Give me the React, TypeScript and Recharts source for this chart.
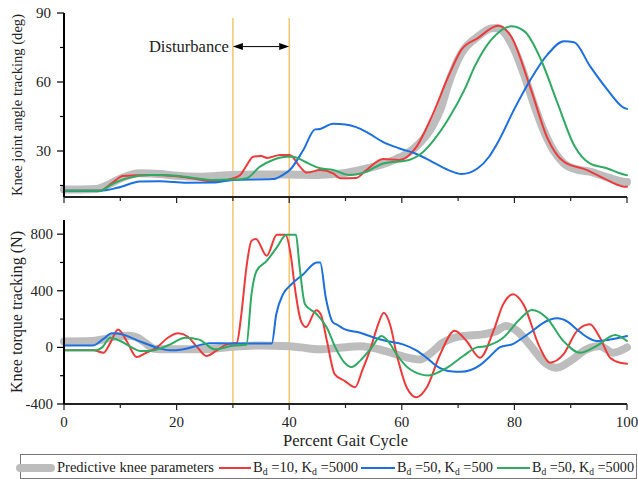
import { LineChart, Line, XAxis, YAxis, ReferenceLine } from 'recharts';

type Pt = [number, number];

const txt = { fontFamily: 'Times New Roman' };

const gaitTicks = [0, 10, 20, 30, 40, 50, 60, 70, 80, 90, 100];
const angleTicks = [15, 30, 45, 60, 75, 90];
const torqueTicks = [-400, -200, 0, 200, 400, 600, 800];
const disturbance = [30, 40];

// knee joint angle (deg) vs percent gait cycle
const anglePredictive: Pt[] = [
  [0, 13.3], [3, 13.3], [5.8, 13.5], [8, 15.5], [10, 18], [13.5, 20.3], [17, 20], [20, 19.2], [24, 18.8],
  [30, 19.6], [35, 19.8], [40, 19.8], [45, 19.6], [50, 20.5], [54, 22.5], [58, 25.5], [61, 29], [63, 33],
  [65.4, 40.6], [67, 49], [68.3, 59.4], [70.6, 72.5], [73.5, 79.7], [75.9, 83.3], [77, 83.5], [78.3, 81.3],
  [80, 74], [81.8, 62.6], [83.5, 50], [85.3, 38.3], [87, 30], [88.8, 24.6], [91, 22], [93.4, 21], [96, 19],
  [99.3, 16.7], [100, 16.5],
];
const angleB10K5000: Pt[] = [
  [0, 12.7], [6.4, 12.7], [8.5, 16], [10.5, 19.1], [15.3, 19.6], [20, 19], [23, 18], [26.5, 16.7], [30, 18.1],
  [31.3, 19.6], [32.5, 24], [33.6, 27.5], [35, 27.8], [36.1, 27], [38.4, 28.3], [40.1, 28.3], [41.9, 23.2],
  [43.1, 20.6], [45.5, 21.7], [47.8, 20.3], [49, 18.2], [51.9, 18.3], [53.7, 21.7], [56.7, 26.5], [59.6, 26.1],
  [62.4, 31.1], [65.4, 45.4], [68.3, 62.6], [70.6, 74.1], [73.5, 79.1], [77.1, 84.5], [79.4, 79.9], [82.9, 57],
  [85.9, 35.4], [88.8, 25.3], [92.9, 21.7], [95.8, 18.2], [99.3, 14.6], [100, 14.5],
];
const angleB50K500: Pt[] = [
  [0, 12.7], [6.4, 12.7], [9.5, 14], [13.5, 16.7], [17, 16.9], [21.8, 16.2], [26.5, 16.3], [30, 17.4],
  [37.1, 17.8], [38.8, 19.5], [40.1, 21.7], [42.5, 30.4], [44.6, 39.4], [45.5, 39.6], [47.8, 41.8], [50, 41.5],
  [51.9, 40.4], [53.7, 38.3], [56.7, 33.9], [59.6, 31.1], [62.4, 28.9], [65.4, 25.3], [68.3, 21.7], [70.6, 20],
  [73.5, 22.5], [75.5, 27.5], [77.1, 33.9], [80, 48.3], [82.9, 61.2], [85.9, 72], [88.8, 77.7], [90.6, 77.3],
  [93.4, 67], [96.4, 57], [99.3, 49], [100, 48.3],
];
const angleB50K5000: Pt[] = [
  [0, 12.7], [6.4, 12.7], [8.5, 15.5], [11.1, 18.1], [15.3, 19.6], [17, 19.6], [20, 19.2], [23, 18.3],
  [26.5, 17.4], [30, 17.6], [32.4, 18.1], [34.8, 23.2], [37.1, 26.1], [39.6, 27.5], [40.7, 27.5], [41.9, 26.5],
  [43.1, 25], [45.5, 22.5], [47.8, 21.7], [50.7, 19.6], [53.7, 21], [56.7, 24.6], [61.3, 26.1], [63.5, 29],
  [65.4, 33.9], [68.3, 44], [71.2, 57], [73, 67], [75.9, 78.4], [79.4, 84.2], [81.8, 82], [84.7, 69.8],
  [87.6, 51.2], [90.6, 32.5], [93.4, 24.6], [96.4, 22.5], [99.3, 19.9], [100, 19.5],
];

// knee torque (N) vs percent gait cycle
const torquePredictive: Pt[] = [
  [0, 42], [5, 45], [7.5, 60], [9.5, 80], [11.5, 82], [13, 70], [14.5, 30], [16, -10], [18, -14], [23, -14],
  [27, -8], [30, 5], [35, 14], [40, 8], [42, 0], [45.5, -14], [49, -2], [52.6, 8], [54.4, 0], [57, -25],
  [59.1, -50], [61, -72], [63.2, -85], [65, -45], [67.3, 33], [69, 65], [70.9, 80], [74.4, 92], [76.5, 110],
  [78.5, 151], [80, 130], [82.2, 45], [83.5, -20], [85.1, -97], [87.5, -144], [89.9, -97], [92.8, -14],
  [95.2, 10], [97.5, -38], [100, 0],
];
const torqueB10K5000: Pt[] = [
  [0, -21], [5.2, -21], [7, -38], [8.2, 30], [9.6, 127], [11.2, 40], [12.9, -68], [14.5, -40], [16.5, 0],
  [18.5, 70], [20.3, 99], [22, 75], [23.7, 0], [25.3, -61], [27, -25], [28.9, 21], [30.7, 33], [31.5, 234],
  [32.4, 564], [33.3, 753], [34.1, 765], [36, 647], [37.8, 795], [39.3, 795], [40.3, 647], [41, 423],
  [42.1, 186], [43, 144], [44.8, 262], [45.6, 234], [46.7, 45], [48.1, -191], [49.9, -238], [51.7, -281],
  [53, -160], [54.4, -14], [55.8, 163], [56.8, 245], [57.9, 163], [59.1, -50], [60.9, -285], [62.6, -352],
  [64.4, -285], [66.8, -50], [69.4, 118], [71.5, 45], [73.9, -73], [76.3, 118], [78, 304], [79.8, 375],
  [81.6, 304], [84.5, 0], [86.3, -108], [88.7, -50], [91.1, 115], [93.4, 163], [95.2, 68], [97, -73],
  [98.8, -108], [100, -115],
];
const torqueB50K500: Pt[] = [
  [0, 14], [5.2, 14], [7, 60], [8.5, 99], [10.5, 90], [13, 50], [16, 5], [18.8, -21], [21, -15], [23.5, 10],
  [25.9, 30], [30, 28], [36.9, 28], [37.7, 234], [38.9, 375], [40.4, 446], [42.5, 517], [44.9, 600],
  [45.5, 600], [46.5, 351], [47.8, 175], [48.4, 163], [49.9, 127], [52.6, 104], [55, 70], [57.3, 45],
  [60.2, 21], [62.5, -20], [64.4, -73], [66.2, -132], [68.6, -168], [70.5, -172], [73.9, -125], [75.5, -70],
  [77.4, 0], [79.8, 25], [81.5, 68], [83, 110], [85, 170], [87.6, 205], [89.5, 180], [91.1, 127], [93, 70],
  [94.6, 45], [97, 55], [100, 80],
];
const torqueB50K5000: Pt[] = [
  [0, -21], [5.5, -21], [6.8, 0], [8.2, 68], [10, 45], [12, 0], [13.5, -26], [16, -20], [18.5, 15],
  [21.6, 68], [24, 55], [26.8, -14], [30, 12], [32.4, 18], [33.3, 375], [34.2, 540], [36, 611], [37.8, 706],
  [39.5, 795], [41.2, 795], [41.8, 587], [42.8, 304], [44.9, 234], [46.7, 139], [48.2, 0], [49.6, -97],
  [51.1, -139], [52.7, -90], [54.4, -14], [56.4, 80], [58, 20], [59.1, -50], [61.5, -156], [64.7, -198],
  [68, -144], [70.9, -61], [73.3, 0], [75.1, 10], [78, 68], [81, 200], [83.1, 264], [85.7, 210], [88.7, 45],
  [91.7, -38], [94.6, 10], [97.9, 87], [100, 45],
];

const toPts = (a: Pt[]) => a.map(([x, y]) => ({ x, y }));

const series = [
  { id: 'pred', color: '#BDBDBD', width: 8, angle: anglePredictive, torque: torquePredictive },
  { id: 'b10k5000', color: '#EE3A3A', width: 2, angle: angleB10K5000, torque: torqueB10K5000, bd: 10, kd: 5000 },
  { id: 'b50k500', color: '#1B6FE0', width: 2, angle: angleB50K500, torque: torqueB50K500, bd: 50, kd: 500 },
  { id: 'b50k5000', color: '#2EAA62', width: 2, angle: angleB50K5000, torque: torqueB50K5000, bd: 50, kd: 5000 },
];

const ORANGE = '#F2B84B';

const GaitTick = ({ x, y, payload, labelled }: any) => {
  const major = payload.value % 20 === 0;
  return (
    <g>
      <line x1={x} x2={x} y1={y} y2={y + (major ? 6 : 4)} stroke="#222" strokeWidth={1.2} />
      {labelled && major && (
        <text x={x} y={y + 23} textAnchor="middle" style={txt} fontSize={15} fill="#222">
          {payload.value}
        </text>
      )}
    </g>
  );
};

const ValueTick = ({ x, y, payload, step, gap }: any) => {
  const major = payload.value % step === 0;
  return (
    <g>
      <line x1={x - (major ? 7 : 4)} x2={x} y1={y} y2={y} stroke="#000" strokeWidth={1.2} />
      {major && (
        <text x={x - gap} y={y + 5} textAnchor="end" style={txt} fontSize={15} fill="#222">
          {payload.value}
        </text>
      )}
    </g>
  );
};

const sideLabel = (text: string, size: number, len: number) => (props: any) => {
  const { viewBox } = props;
  const cx = viewBox.x + 18;
  const cy = viewBox.y + viewBox.height / 2;
  return (
    <text x={cx} y={cy} transform={`rotate(-90, ${cx}, ${cy})`} textAnchor="middle"
      style={txt} fontSize={size} fill="#222" textLength={len} lengthAdjust="spacingAndGlyphs">
      {text}
    </text>
  );
};

const bottomLabel = (props: any) => {
  const { viewBox } = props;
  return (
    <text x={viewBox.x + viewBox.width / 2} y={viewBox.y + 42} textAnchor="middle" style={txt}
      fontSize={16.5} fill="#222" textLength={125} lengthAdjust="spacingAndGlyphs">
      Percent Gait Cycle
    </text>
  );
};

const DisturbanceArrow = (props: any) => {
  const { x1, y1, x2 } = props;
  const head = 10;
  return (
    <g>
      <line x1={x1 + head} y1={y1} x2={x2 - head} y2={y1} stroke="#000" strokeWidth={1} />
      <polygon points={`${x1},${y1} ${x1 + head},${y1 - 3.5} ${x1 + head},${y1 + 3.5}`} fill="#000" />
      <polygon points={`${x2},${y1} ${x2 - head},${y1 - 3.5} ${x2 - head},${y1 + 3.5}`} fill="#000" />
      <text x={x1 - 4} y={y1 + 5} textAnchor="end" style={txt} fontSize={16.5} fill="#222"
        textLength={80} lengthAdjust="spacingAndGlyphs">
        Disturbance
      </text>
    </g>
  );
};

const legendLine = [[20, 51], [219, 251], [361, 395], [497, 530]];
const legendText = [57, 253, 397, 532];
const legendWidth = [157, 105, 96, 102];

const Legend = () => (
  <svg width={638} height={29} style={{ position: 'absolute', left: 0, top: 450 }}>
    <rect x={20.5} y={4.5} width={616} height={24} fill="none" stroke="#777" strokeWidth={1} />
    {series.map((s, i) => (
      <g key={s.id}>
        <line x1={legendLine[i][0]} x2={legendLine[i][1]} y1={18} y2={18} stroke={s.color}
          strokeWidth={s.width} strokeLinecap={s.width > 2 ? 'round' : 'butt'} />
        <text x={legendText[i]} y={22} style={txt} fontSize={15} fill="#222"
          textLength={legendWidth[i]} lengthAdjust="spacingAndGlyphs">
          {s.bd === undefined ? (
            'Predictive knee parameters'
          ) : (
            <>
              <tspan>B</tspan>
              <tspan fontSize={10} dy={3}>d</tspan>
              <tspan dy={-3}>{` =${s.bd}, `}</tspan>
              <tspan>K</tspan>
              <tspan fontSize={10} dy={3}>d</tspan>
              <tspan dy={-3}>{` =${s.kd}`}</tspan>
            </>
          )}
        </text>
      </g>
    ))}
  </svg>
);

export default function App() {
  return (
    <div style={{ position: 'absolute', left: 0, top: 0, width: 638, height: 479, background: '#fff' }}>
      <div style={{ position: 'absolute', left: 0, top: 0 }}>
        <LineChart width={638} height={222} margin={{ top: 13, right: 11, bottom: 0, left: 4 }}>
          <XAxis dataKey="x" type="number" domain={[0, 100]} ticks={gaitTicks} interval={0} height={25}
            tickSize={0} tickMargin={0} tickLine={false} axisLine={{ stroke: '#222', strokeWidth: 2 }}
            tick={(p: any) => <GaitTick {...p} labelled={false} />} />
          <YAxis type="number" domain={[10, 90]} ticks={angleTicks} interval={0} width={60}
            tickSize={0} tickMargin={0} tickLine={false} axisLine={{ stroke: '#000', strokeWidth: 2 }}
            tick={(p: any) => <ValueTick {...p} step={30} gap={13} />}
            label={{ content: sideLabel('Knee joint angle tracking (deg)', 15, 182) }} />
          {disturbance.map((d) => (
            <ReferenceLine key={d} segment={[{ x: d, y: 87.8 }, { x: d, y: 0 }]} stroke={ORANGE}
              strokeWidth={1.2} ifOverflow="visible" />
          ))}
          <ReferenceLine segment={[{ x: disturbance[0], y: 75.4 }, { x: disturbance[1], y: 75.4 }]}
            ifOverflow="visible" shape={DisturbanceArrow} />
          {series.map((s) => (
            <Line key={s.id} data={toPts(s.angle)} dataKey="y" type="monotone" stroke={s.color}
              strokeWidth={s.width} strokeLinecap="round" dot={false} activeDot={false}
              isAnimationActive={false} />
          ))}
        </LineChart>
      </div>
      <div style={{ position: 'absolute', left: 0, top: 210 }}>
        <LineChart width={638} height={250} margin={{ top: 10, right: 11, bottom: 0, left: 4 }}>
          <XAxis dataKey="x" type="number" domain={[0, 100]} ticks={gaitTicks} interval={0} height={56}
            tickSize={0} tickMargin={0} tickLine={false} axisLine={{ stroke: '#222', strokeWidth: 2 }}
            tick={(p: any) => <GaitTick {...p} labelled />} label={{ content: bottomLabel }} />
          <YAxis type="number" domain={[-400, 900]} ticks={torqueTicks} interval={0} width={60}
            tickSize={0} tickMargin={0} tickLine={false} axisLine={{ stroke: '#000', strokeWidth: 2 }}
            tick={(p: any) => <ValueTick {...p} step={400} gap={11} />}
            label={{ content: sideLabel('Knee torque tracking (N)', 16, 162) }} />
          {disturbance.map((d) => (
            <ReferenceLine key={d} x={d} stroke={ORANGE} strokeWidth={1.2} />
          ))}
          {series.map((s) => (
            <Line key={s.id} data={toPts(s.torque)} dataKey="y" type="monotone" stroke={s.color}
              strokeWidth={s.width} strokeLinecap="round" dot={false} activeDot={false}
              isAnimationActive={false} />
          ))}
        </LineChart>
      </div>
      <Legend />
    </div>
  );
}
